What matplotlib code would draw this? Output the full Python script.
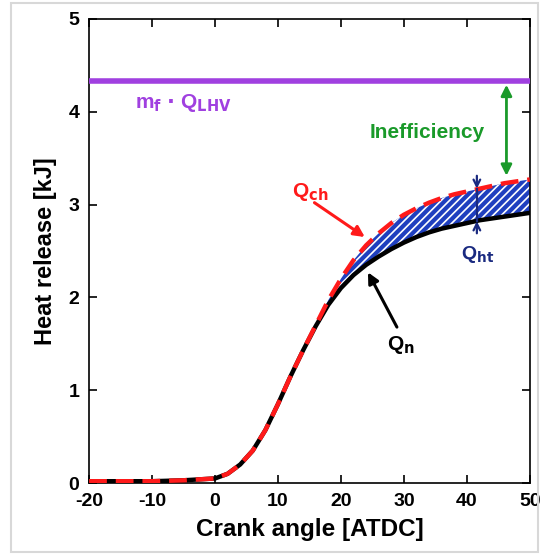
import numpy as np
import matplotlib.pyplot as plt
from matplotlib.patches import Rectangle

plt.rcParams['font.family'] = ['Liberation Sans', 'DejaVu Sans']
plt.rcParams['font.weight'] = 'bold'
plt.rcParams['axes.unicode_minus'] = False
plt.rcParams['hatch.color'] = 'white'
plt.rcParams['hatch.linewidth'] = 1.2

crank = [-20, -10, -5, 0, 2, 4, 6, 8, 10, 12, 14, 16, 18, 20, 22, 24, 26,
         28, 30, 32, 34, 36, 38, 40, 42, 44, 46, 48, 50]
q_n = [0.02, 0.02, 0.03, 0.05, 0.10, 0.20, 0.35, 0.57, 0.85, 1.15, 1.43, 1.69,
       1.92, 2.10, 2.24, 2.35, 2.44, 2.52, 2.59, 2.65, 2.70, 2.74, 2.77, 2.80,
       2.83, 2.85, 2.87, 2.89, 2.91]
q_ch = [0.02, 0.02, 0.03, 0.05, 0.10, 0.20, 0.35, 0.57, 0.85, 1.15, 1.43, 1.70,
        1.97, 2.20, 2.40, 2.56, 2.69, 2.80, 2.89, 2.96, 3.02, 3.07, 3.11, 3.14,
        3.17, 3.20, 3.23, 3.25, 3.27]
q_fuel = 4.33

crank = np.array(crank)
q_n = np.array(q_n)
q_ch = np.array(q_ch)

fig = plt.figure(figsize=(5.4, 5.54), dpi=100)
ax = fig.add_axes([0.165, 0.128, 0.816, 0.838])

ax.fill_between(crank, q_n, q_ch, where=crank >= 14, facecolor='#1f3fbf',
                edgecolor='white', hatch='////', linewidth=0, zorder=2)
ax.plot(crank, q_n, color='black', lw=3.2, solid_joinstyle='round', zorder=3)
ax.plot(crank, q_ch, color='#ff1a1a', lw=3.2, dashes=(4, 2),
        dash_joinstyle='round', zorder=4)
ax.axhline(q_fuel, color='#a040e0', lw=4, zorder=3)

ax.text(-5.0, 4.09, r'm$_\mathbf{f}$ $\cdot$ Q$_\mathbf{LHV}$', color='#a040e0',
        fontsize=15, ha='center', va='center', fontweight='bold')
ax.text(33.7, 3.78, 'Inefficiency', color='#1a9a2a', fontsize=15,
        ha='center', va='center', fontweight='bold')
ax.annotate('', xy=(46.3, 3.31), xytext=(46.3, 4.29),
            arrowprops=dict(arrowstyle='<|-|>', color='#1a9a2a', lw=2,
                            mutation_scale=16, shrinkA=0, shrinkB=0))

ax.text(15.1, 3.13, r'Q$_\mathbf{ch}$', color='#ff1a1a', fontsize=15,
        ha='center', va='center', fontweight='bold')
ax.annotate('', xy=(23.8, 2.65), xytext=(15.8, 3.02),
            arrowprops=dict(arrowstyle='-|>', color='#ff1a1a', lw=2.2,
                            mutation_scale=16, shrinkA=0, shrinkB=0))

ax.text(29.6, 1.49, r'Q$_\mathbf{n}$', color='black', fontsize=15,
        ha='center', va='center', fontweight='bold')
ax.annotate('', xy=(24.3, 2.27), xytext=(28.9, 1.68),
            arrowprops=dict(arrowstyle='-|>', color='black', lw=2.2,
                            mutation_scale=16, shrinkA=0, shrinkB=0))

ax.text(41.7, 2.46, r'Q$_\mathbf{ht}$', color='#1a2a80', fontsize=14,
        ha='center', va='center', fontweight='bold')
ax.plot([41.6, 41.6], [2.82, 3.17], color='#1a2a80', lw=1.6, zorder=5)
ax.annotate('', xy=(41.6, 3.17), xytext=(41.6, 3.31),
            arrowprops=dict(arrowstyle='->', color='#1a2a80', lw=1.6,
                            mutation_scale=12, shrinkA=0, shrinkB=0))
ax.annotate('', xy=(41.6, 2.82), xytext=(41.6, 2.69),
            arrowprops=dict(arrowstyle='->', color='#1a2a80', lw=1.6,
                            mutation_scale=12, shrinkA=0, shrinkB=0))

ax.set_xlim(-20, 50)
ax.set_ylim(0, 5)
ax.set_xticks(range(-20, 51, 10))
ax.set_yticks(range(0, 6))
ax.tick_params(direction='in', length=6, width=1.2, labelsize=14,
               top=True, right=True)
ax.tick_params(axis='x', pad=7)
ax.tick_params(axis='y', pad=7)
for lab in ax.get_xticklabels() + ax.get_yticklabels():
    lab.set_fontweight('bold')
for sp in ax.spines.values():
    sp.set_linewidth(1.2)
ax.set_xlabel('Crank angle [ATDC]', fontsize=17.5, fontweight='bold', labelpad=6)
ax.set_ylabel('Heat release [kJ]', fontsize=17, fontweight='bold', labelpad=8)

fig.patches.append(Rectangle((0.02, 0.003), 0.976, 0.992, transform=fig.transFigure,
                             fill=False, edgecolor='#d8d8d8', lw=1.5))

fig.savefig('out.png', dpi=100)
